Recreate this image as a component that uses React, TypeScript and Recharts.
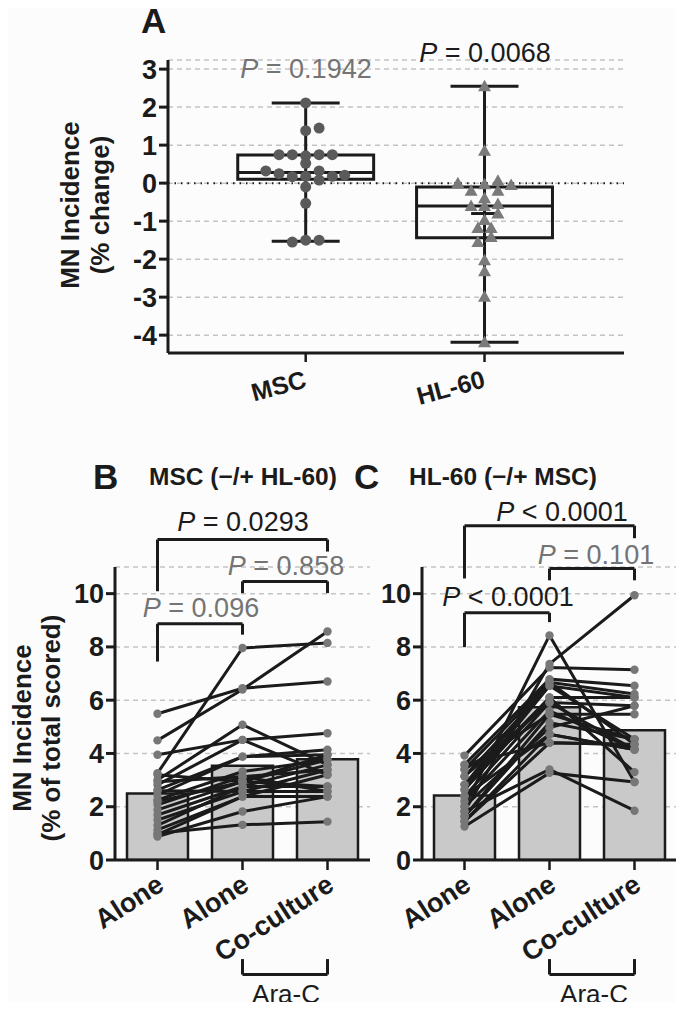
import React from 'react';
import {
  ComposedChart, Bar, Line, Scatter, XAxis, YAxis, CartesianGrid,
  ReferenceLine, ReferenceArea,
} from 'recharts';

const FONT = '"Liberation Sans", Arial, Helvetica, sans-serif';
const INK = '#1b1b1b';
const GREY_TXT = '#747474';
const GRID = '#c4c4c4';

// ---- Panel A: % change, box plots ----
const mscOffset = [0, 0, 0.075, -0.149, -0.075, 0, 0.075, 0.149, 0, -0.223, -0.149, 0.075, -0.075, 0, 0.149, 0.218, 0.075, 0, 0, -0.075, 0, 0.075];
const mscChange = [2.11, 1.38, 1.45, 0.75, 0.75, 0.72, 0.75, 0.75, 0.52, 0.32, 0.25, 0.32, 0.17, 0.18, 0.18, 0.21, 0.08, -0.1, -0.53, -1.55, -1.5, -1.5];
const hlOffset = [0, 0, -0.149, 0, 0.075, 0.149, -0.075, 0.075, 0, -0.075, 0, 0.075, 0.075, 0, -0.037, 0.037, -0.037, 0.037, 0, 0, 0, 0];
const hlChange = [2.55, 0.85, 0.0, -0.03, 0.06, -0.05, -0.2, -0.2, -0.4, -0.6, -0.6, -0.55, -0.8, -0.97, -1.18, -1.18, -1.55, -1.42, -2.03, -2.32, -2.99, -4.19];
// min, q1, median, q3, max
const mscBox = [-1.53, 0.1, 0.28, 0.74, 2.11];
const hlBox = [-4.19, -1.44, -0.6, -0.1, 2.55];
const hlMean = -0.8;
const aTicks = [-4, -3, -2, -1, 0, 1, 2, 3];
const aGroups = ['MSC', 'HL-60'];

// ---- Panels B / C: paired values ----
const groupKeys = ['alone', 'araAlone', 'coculture'];
const groupLabels = ['Alone', 'Alone', 'Co-culture'];

const mscAlone = [5.49, 4.49, 3.26, 3.95, 3.0, 2.82, 2.63, 2.44, 2.26, 2.07, 1.88, 1.69, 1.5, 1.13, 1.0, 0.88, 2.94, 2.2, 1.3, 2.6, 0.95, 3.2];
const mscAraAlone = [6.45, 6.4, 7.96, 4.51, 5.08, 4.51, 3.88, 3.88, 3.32, 3.13, 2.94, 2.76, 2.57, 2.38, 1.32, 1.82, 3.13, 2.94, 2.76, 2.57, 2.38, 2.94];
const mscAraCo = [6.7, 8.58, 8.15, 4.76, 3.57, 3.2, 4.14, 3.95, 3.76, 3.38, 2.76, 3.57, 2.57, 3.2, 1.44, 2.38, 2.57, 3.95, 2.76, 3.38, 2.38, 3.76];
const mscMeans = [2.5, 3.54, 3.78];

const hlAlone = [2.01, 1.82, 3.92, 3.58, 3.4, 3.14, 2.83, 2.64, 2.39, 2.2, 3.4, 1.63, 2.01, 1.45, 1.26, 1.82, 3.58, 2.83, 1.63, 2.39, 3.14, 2.64, 1.45];
const hlAraAlone = [8.43, 7.36, 7.23, 6.79, 6.67, 6.54, 6.67, 6.1, 5.91, 5.6, 5.47, 5.16, 4.97, 4.72, 3.27, 3.4, 4.4, 6.1, 5.47, 4.72, 5.91, 6.54, 4.4];
const hlAraCo = [2.93, 9.94, 7.14, 6.54, 6.23, 6.1, 4.34, 6.1, 5.79, 4.15, 5.47, 4.53, 5.79, 4.15, 2.93, 1.85, 4.34, 3.3, 4.53, 4.15, 4.15, 4.53, 4.34];
const hlMeans = [2.42, 5.73, 4.87];

const bcTicks = [0, 2, 4, 6, 8, 10];

// bracket annotations (data units)
const mscBrackets = [
  { from: 'alone', to: 'coculture', top: 12.03, left: 10.09, right: 11.58 },
  { from: 'araAlone', to: 'coculture', top: 10.46, left: 10.02, right: 10.02 },
  { from: 'alone', to: 'araAlone', top: 8.87, left: 7.45, right: 8.46 },
  { from: 'araAlone', to: 'coculture', top: -4.3, left: -3.72, right: -3.72 },
];
const hlBrackets = [
  { from: 'alone', to: 'coculture', top: 12.55, left: 10.57, right: 12.08 },
  { from: 'araAlone', to: 'coculture', top: 10.94, left: 10.5, right: 10.5 },
  { from: 'alone', to: 'araAlone', top: 9.28, left: 7.99, right: 8.93 },
  { from: 'araAlone', to: 'coculture', top: -4.3, left: -3.72, right: -3.72 },
];

const buildRows = (cols: number[][], means: number[]) =>
  groupKeys.map((key, i) => {
    const row: Record<string, any> = { key, mean: means[i] };
    cols[i].forEach((v, j) => { row['s' + j] = v; });
    return row;
  });

const mscRows = buildRows([mscAlone, mscAraAlone, mscAraCo], mscMeans);
const hlRows = buildRows([hlAlone, hlAraAlone, hlAraCo], hlMeans);

const mscPts = mscChange.map((y, i) => ({ x: 1 + mscOffset[i], y }));
const hlPts = hlChange.map((y, i) => ({ x: 2 + hlOffset[i], y }));

const tickStyle = { fontFamily: FONT, fontWeight: 700, fontSize: 27, fill: INK };
const lineProps = { stroke: INK, strokeWidth: 3 };

const SlantTick = (props: any) => {
  const { x, y, payload } = props;
  const label = groupLabels[groupKeys.indexOf(payload.value)];
  const ox = x + 8;
  const oy = y + 17;
  return (
    <text x={ox} y={oy} transform={`rotate(-33, ${ox}, ${oy})`} textAnchor="end"
      fontFamily={FONT} fontWeight={700} fontSize={27} fill={INK}>{label}</text>
  );
};

const ATick = (props: any) => {
  const { x, y, payload } = props;
  const label = aGroups[payload.value - 1];
  const ox = x + 2;
  const oy = y + 23;
  return (
    <text x={ox} y={oy} transform={`rotate(-15, ${ox}, ${oy})`} textAnchor="end"
      fontFamily={FONT} fontWeight={700} fontSize={25} fill={INK}>{label}</text>
  );
};

const Tri = (p: any) => {
  const { cx, cy } = p;
  return <polygon points={`${cx},${cy - 6.5} ${cx + 6.5},${cy + 5} ${cx - 6.5},${cy + 5}`} fill="#7a7a7a" />;
};
const Dot = (p: any) => <circle cx={p.cx} cy={p.cy} r={5.5} fill="#5a5a5a" />;

const boxElements = (cx: number, s: number[], id: string) => [
  <ReferenceLine key={id + 'w'} segment={[{ x: cx, y: s[0] }, { x: cx, y: s[4] }]} {...lineProps} ifOverflow="visible" />,
  <ReferenceLine key={id + 'lo'} segment={[{ x: cx - 0.19, y: s[0] }, { x: cx + 0.19, y: s[0] }]} {...lineProps} ifOverflow="visible" />,
  <ReferenceLine key={id + 'hi'} segment={[{ x: cx - 0.19, y: s[4] }, { x: cx + 0.19, y: s[4] }]} {...lineProps} ifOverflow="visible" />,
  <ReferenceArea key={id + 'b'} x1={cx - 0.38} x2={cx + 0.38} y1={s[1]} y2={s[3]} fill="none" fillOpacity={0} stroke={INK} strokeWidth={3} ifOverflow="visible" />,
  <ReferenceLine key={id + 'm'} segment={[{ x: cx - 0.38, y: s[2] }, { x: cx + 0.38, y: s[2] }]} {...lineProps} ifOverflow="visible" />,
];

const bracketElements = (list: any[], id: string) =>
  list.flatMap((b, i) => [
    <ReferenceLine key={`${id}${i}t`} segment={[{ x: b.from, y: b.top }, { x: b.to, y: b.top }]} {...lineProps} ifOverflow="visible" />,
    <ReferenceLine key={`${id}${i}l`} segment={[{ x: b.from, y: b.top }, { x: b.from, y: b.left }]} {...lineProps} ifOverflow="visible" />,
    <ReferenceLine key={`${id}${i}r`} segment={[{ x: b.to, y: b.top }, { x: b.to, y: b.right }]} {...lineProps} ifOverflow="visible" />,
  ]);

const PairedPanel = ({ rows, n, brackets, left, id }: any) => (
  <div style={{ position: 'absolute', left: 0, top: 0 }}>
    <ComposedChart width={684} height={1010} data={rows}
      margin={{ top: 567, bottom: 120, left: left - 60, right: 684 - left - 255 }}>
      <CartesianGrid vertical={false} stroke={GRID} strokeWidth={1.5} strokeDasharray="5 4" />
      <XAxis dataKey="key" type="category" tick={<SlantTick />} tickSize={10} height={30}
        axisLine={{ stroke: INK, strokeWidth: 3 }} tickLine={{ stroke: INK, strokeWidth: 2.5 }} interval={0} />
      <YAxis type="number" domain={[0, 11]} ticks={bcTicks} width={60} tick={tickStyle} tickSize={9}
        axisLine={{ stroke: INK, strokeWidth: 3 }} tickLine={{ stroke: INK, strokeWidth: 3 }} allowDataOverflow />
      <Bar dataKey="mean" barSize={61} fill="#c9c9c9" stroke={INK} strokeWidth={2.5} isAnimationActive={false} />
      {Array.from({ length: n }, (_, j) => (
        <Line key={id + j} dataKey={'s' + j} stroke={INK} strokeWidth={3}
          dot={{ r: 4.2, fill: '#777', stroke: 'none' }} activeDot={false} isAnimationActive={false} />
      ))}
      {bracketElements(brackets, id)}
    </ComposedChart>
  </div>
);

const PText = ({ x, y, op, val, color }: any) => (
  <text x={x} y={y} textAnchor="middle" fontFamily={FONT} fontSize={27} fill={color}>
    <tspan fontStyle="italic">P</tspan>{` ${op} ${val}`}
  </text>
);

const Annotations = () => (
  <svg width={684} height={1010} style={{ position: 'absolute', left: 0, top: 0, pointerEvents: 'none' }}>
    <g fontFamily={FONT} fill={INK}>
      <text x={141} y={33} fontSize={35} fontWeight={700}>A</text>
      <text x={93} y={489} fontSize={35} fontWeight={700}>B</text>
      <text x={354} y={489} fontSize={35} fontWeight={700}>C</text>
      <text x={149} y={485} fontSize={24.5} fontWeight={700}>MSC (−/+ HL-60)</text>
      <text x={409} y={485} fontSize={24.5} fontWeight={700}>HL-60 (−/+ MSC)</text>

      <text transform="translate(70,205) rotate(-90)" textAnchor="middle" dominantBaseline="central" fontSize={26} fontWeight={700}>MN Incidence</text>
      <text transform="translate(100,205) rotate(-90)" textAnchor="middle" dominantBaseline="central" fontSize={26} fontWeight={700}>(% change)</text>
      <text transform="translate(22,728) rotate(-90)" textAnchor="middle" dominantBaseline="central" fontSize={26} fontWeight={700}>MN Incidence</text>
      <text transform="translate(51,728) rotate(-90)" textAnchor="middle" dominantBaseline="central" fontSize={26} fontWeight={700}>(% of total scored)</text>

      <text x={286} y={1003} textAnchor="middle" fontSize={26}>Ara-C</text>
      <text x={594} y={1003} textAnchor="middle" fontSize={26}>Ara-C</text>
    </g>
    <PText x={306} y={78} op="=" val="0.1942" color={GREY_TXT} />
    <PText x={485} y={62} op="=" val="0.0068" color={INK} />
    <PText x={243} y={531} op="=" val="0.0293" color={INK} />
    <PText x={286} y={575} op="=" val="0.858" color={GREY_TXT} />
    <PText x={201} y={617} op="=" val="0.096" color={GREY_TXT} />
    <PText x={562} y={521} op="<" val="0.0001" color={INK} />
    <PText x={596} y={564} op="=" val="0.101" color={GREY_TXT} />
    <PText x={508} y={606} op="<" val="0.0001" color={INK} />
  </svg>
);

export default function App() {
  return (
    <div style={{ position: 'relative', width: 684, height: 1010, margin: -8, background: '#fcfcfc', overflow: 'hidden' }}>
      <div style={{ position: 'absolute', left: 0, top: 0 }}>
        <ComposedChart width={684} height={1010} margin={{ top: 60, bottom: 627, left: 108, right: 60 }}>
          <CartesianGrid vertical={false} stroke={GRID} strokeWidth={1.5} strokeDasharray="5 4" />
          <XAxis dataKey="x" type="number" domain={[0.23, 2.78]} ticks={[1, 2]} tick={<ATick />} tickSize={9} height={30}
            axisLine={{ stroke: INK, strokeWidth: 3 }} tickLine={{ stroke: INK, strokeWidth: 2.5 }} allowDataOverflow />
          <YAxis dataKey="y" type="number" domain={[-4.47, 3.24]} ticks={aTicks} width={60} tick={tickStyle} tickSize={9}
            axisLine={{ stroke: INK, strokeWidth: 3 }} tickLine={{ stroke: INK, strokeWidth: 3 }} allowDataOverflow />
          <ReferenceLine y={0} stroke={INK} strokeWidth={2} strokeDasharray="1.5 5" />
          {boxElements(1, mscBox, 'msc')}
          {boxElements(2, hlBox, 'hl')}
          <ReferenceLine segment={[{ x: 1.925, y: hlMean }, { x: 2.085, y: hlMean }]} {...lineProps} ifOverflow="visible" />
          <Scatter data={mscPts} dataKey="y" shape={Dot} isAnimationActive={false} />
          <Scatter data={hlPts} dataKey="y" shape={Tri} isAnimationActive={false} />
        </ComposedChart>
      </div>
      <PairedPanel rows={mscRows} n={mscAlone.length} brackets={mscBrackets} left={115} id="b" />
      <PairedPanel rows={hlRows} n={hlAlone.length} brackets={hlBrackets} left={422} id="c" />
      <Annotations />
    </div>
  );
}
